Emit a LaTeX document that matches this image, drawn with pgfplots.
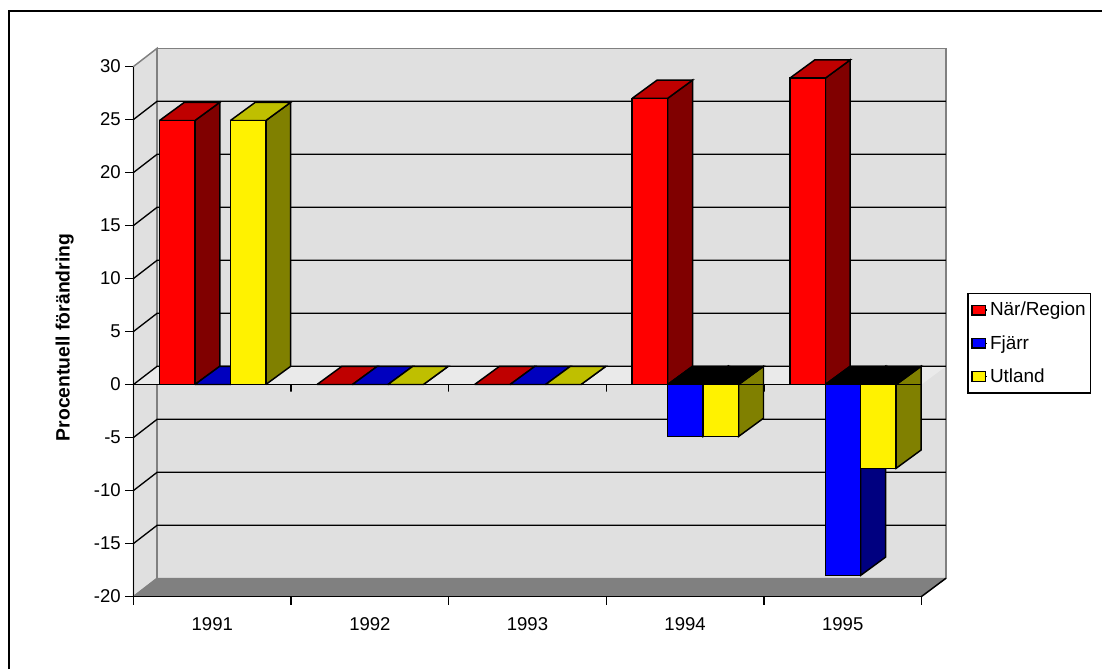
\documentclass[border=0pt]{standalone}
\usepackage{fontspec}
\setmainfont{Liberation Sans}
\usepackage{pgfplots}
\pgfplotsset{compat=1.18}

\definecolor{wall}{HTML}{E0E0E0}
\definecolor{zeroplane}{HTML}{EAEAEA}
\definecolor{floorgray}{HTML}{808080}
\definecolor{redtop}{HTML}{BF0000}
\definecolor{redside}{HTML}{800000}
\definecolor{bluetop}{HTML}{0000BF}
\definecolor{blueside}{HTML}{000080}
\definecolor{yellowtop}{HTML}{BFBF00}
\definecolor{yellowside}{HTML}{808000}

% depth of the fake 3D bars, in axis units
\newcommand{\depx}{0.158}
\newcommand{\depy}{1.72}

% #1 year index, #2 slot in the group, #3 value, #4 front, #5 top, #6 side
\newcommand{\colbar}[6]{%
  \pgfmathsetmacro\xl{#1+0.1645+#2*0.225}%
  \pgfmathsetmacro\xr{\xl+0.225}%
  \pgfmathsetmacro\xlb{\xl+\depx}%
  \pgfmathsetmacro\xrb{\xr+\depx}%
  \pgfmathsetmacro\yb{#3+\depy}%
  \pgfmathsetmacro\yt{max(#3,0)}%
  \pgfmathsetmacro\ytb{\yt+\depy}%
  \addplot[barline, fill=#6] coordinates {(\xr,0) (\xrb,\depy) (\xrb,\yb) (\xr,#3) (\xr,0)};
  \addplot[barline, fill=#5] coordinates {(\xl,\yt) (\xlb,\ytb) (\xrb,\ytb) (\xr,\yt) (\xl,\yt)};
  \addplot[barline, fill=#4] coordinates {(\xl,0) (\xl,#3) (\xr,#3) (\xr,0) (\xl,0)};
}

\begin{document}
\begin{tikzpicture}
\path[use as bounding box] (-100.125pt,-54.375pt) rectangle (726.375pt,447.375pt);
\begin{axis}[
    scale only axis,
    width=591pt,
    height=397.5pt,
    xmin=0, xmax=5,
    ymin=-20, ymax=30,
    clip=false,
    axis on top,
    axis x line=bottom,
    axis y line=left,
    axis line style={-, line width=1.2pt},
    tick style={black, line width=1pt},
    tick align=outside,
    major tick length=6pt,
    xtick={0,1,2,3,4,5},
    xticklabels={,,,,,},
    extra x ticks={0.5,1.5,2.5,3.5,4.5},
    extra x tick labels={1991,1992,1993,1994,1995},
    extra x tick style={tick style={draw=none}, xticklabel style={yshift=-6pt}},
    ytick={-20,-15,-10,-5,0,5,10,15,20,25,30},
    yticklabels={-20,-15,-10,-5,0,5,10,15,20,25,30},
    tick label style={font=\fontsize{13.9}{16}\selectfont},
    ylabel={\textbf{Procentuell förändring}},
    ylabel style={font=\fontsize{14.5}{16}\selectfont, at={(rel axis cs:-0.0872,0.4887)}, anchor=center, rotate=0},
    legend cell align=left,
    legend style={
        at={(rel axis cs:1.058,0.5732)}, anchor=north west,
        draw=black, line width=1pt, fill=white,
        font=\fontsize{14.2}{16}\selectfont,
        inner xsep=1.6pt, inner ysep=4.6pt, row sep=9.1pt,
    },
    every axis plot/.append style={forget plot},
    barline/.style={black, line width=1.1pt, mark=none},
    gridl/.style={black, line width=1pt},
    swatch/.style={legend image code/.code={%
        \path (0pt,0pt) -- (12pt,0pt);
        \draw[black, line width=1pt, fill=#1] (1pt,-3.6pt) rectangle (11pt,3.6pt);}},
    ]

% side wall, back wall, floor
\addplot[draw=floorgray, line width=1.1pt, fill=wall] coordinates {(0,-20) (0,30) (0.15,31.72) (0.15,-18.28) (0,-20)};
\addplot[draw=floorgray, line width=1.1pt, fill=wall] coordinates {(0.15,-18.28) (0.15,31.72) (5.155,31.72) (5.155,-18.28) (0.15,-18.28)};
\addplot[draw=floorgray, line width=0.6pt, fill=floorgray] coordinates {(0,-20) (0.15,-18.28) (5.155,-18.28) (5,-20) (0,-20)};
\addplot[draw=floorgray, line width=1.1pt] coordinates {(0.15,-18.28) (5.155,-18.28)};
\addplot[black, line width=1.1pt] coordinates {(5,-20) (5.155,-18.28)};

% plane at zero
\addplot[draw=none, fill=zeroplane] coordinates {(0,0) (0.15,1.72) (5.155,1.72) (5,0) (0,0)};

% gridlines, side wall then back wall
\addplot[gridl] coordinates {(0,25) (0.15,26.72) (5.155,26.72)};
\addplot[gridl] coordinates {(0,20) (0.15,21.72) (5.155,21.72)};
\addplot[gridl] coordinates {(0,15) (0.15,16.72) (5.155,16.72)};
\addplot[gridl] coordinates {(0,10) (0.15,11.72) (5.155,11.72)};
\addplot[gridl] coordinates {(0,5) (0.15,6.72) (5.155,6.72)};
\addplot[gridl] coordinates {(0,0) (0.15,1.72) (5.155,1.72)};
\addplot[gridl] coordinates {(0,-5) (0.15,-3.28) (5.155,-3.28)};
\addplot[gridl] coordinates {(0,-10) (0.15,-8.28) (5.155,-8.28)};
\addplot[gridl] coordinates {(0,-15) (0.15,-13.28) (5.155,-13.28)};

% När/Region, Fjärr, Utland per year
\colbar{0}{0}{24.9}{red}{redtop}{redside}
\colbar{0}{1}{0}{blue}{bluetop}{blueside}
\colbar{0}{2}{24.9}{yellow}{yellowtop}{yellowside}
\colbar{1}{0}{0}{red}{redtop}{redside}
\colbar{1}{1}{0}{blue}{bluetop}{blueside}
\colbar{1}{2}{0}{yellow}{yellowtop}{yellowside}
\colbar{2}{0}{0}{red}{redtop}{redside}
\colbar{2}{1}{0}{blue}{bluetop}{blueside}
\colbar{2}{2}{0}{yellow}{yellowtop}{yellowside}
\colbar{3}{0}{27}{red}{redtop}{redside}
\colbar{3}{1}{-4.9}{blue}{black}{blueside}
\colbar{3}{2}{-4.9}{yellow}{black}{yellowside}
\colbar{4}{0}{28.9}{red}{redtop}{redside}
\colbar{4}{1}{-18}{blue}{black}{blueside}
\colbar{4}{2}{-7.9}{yellow}{black}{yellowside}

% axis at zero with its ticks
\addplot[black, line width=1.1pt] coordinates {(0,0) (1,0) (1,-0.66) (1,0) (2,0) (2,-0.66) (2,0) (3,0) (3,-0.66) (3,0) (4,0) (4,-0.66) (4,0) (5,0) (5,-0.66)};

\addlegendimage{swatch=red}
\addlegendentry{När/Region}
\addlegendimage{swatch=blue}
\addlegendentry{Fjärr}
\addlegendimage{swatch=yellow}
\addlegendentry{Utland}
\end{axis}
% outer frame, only top and left are in the picture
\draw[black, line width=1.4pt] (-93.1pt,-54.375pt) -- (-93.1pt,439.2pt) -- (726.375pt,439.2pt);
\end{tikzpicture}
\end{document}
